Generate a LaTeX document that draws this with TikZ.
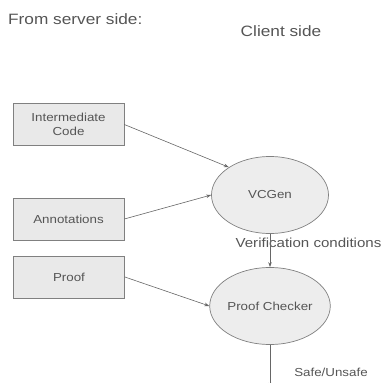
\documentclass[tikz,border=0pt]{standalone}
\usepackage{fontspec}
\setmainfont[FakeStretch=1.15]{Liberation Sans}
\usetikzlibrary{shapes.geometric,arrows.meta}
\definecolor{ink}{HTML}{555555}
\definecolor{edge}{HTML}{808080}
\definecolor{boxfill}{HTML}{E9E9E9}
\definecolor{ovalfill}{HTML}{EDEDED}
\begin{document}
\begin{tikzpicture}[x=1pt,y=-1pt,
  every node/.style={text=ink, inner sep=0pt},
  srcbox/.style={draw=edge, fill=boxfill, line width=0.7pt, minimum width=111pt, minimum height=42pt, align=center, font=\fontsize{11.6}{14}\selectfont},
  stage/.style={ellipse, draw=edge, fill=ovalfill, line width=0.7pt, minimum width=117pt, minimum height=77pt, font=\fontsize{11.6}{14}\selectfont},
  flow/.style={draw=ink!90, line width=0.6pt, -{Stealth[length=5pt,width=3.5pt]}},
  head/.style={font=\fontsize{15}{18}\selectfont},
  tag/.style={font=\fontsize{11.6}{14}\selectfont}]
\useasboundingbox (0,0) rectangle (386,383);

% headings
\node[head, anchor=west] (server) at (8,19) {From server side:};
\node[head] (client) at (281,31) {Client side};

% inputs sent by the server
\node[srcbox] (ic) at (68.5,124.5) {Intermediate\\Code};
\node[srcbox] (ann) at (68.5,219) {Annotations};
\node[srcbox] (pf) at (69,277) {Proof};

% client-side stages
\node[stage] (vc) at (270,195) {VCGen};
\node[stage] (pc) at (270,306) {Proof Checker};

% labels on the vertical flow
\node[font=\fontsize{13.1}{16}\selectfont] (vcl) at (308.5,243) {Verification conditions};
\node[tag] (res) at (331,372) {Safe/Unsafe};
\coordinate (out) at (270,388);

% connectors
\draw[flow] (ic.east) -- (vc.146);
\draw[flow] (ann.east) -- (vc.west);
\draw[flow] (pf.east) -- (pc.west);
\draw[flow] (vc.south) -- (pc.north);
\draw[flow] (pc.south) -- (out);
\end{tikzpicture}
\end{document}
